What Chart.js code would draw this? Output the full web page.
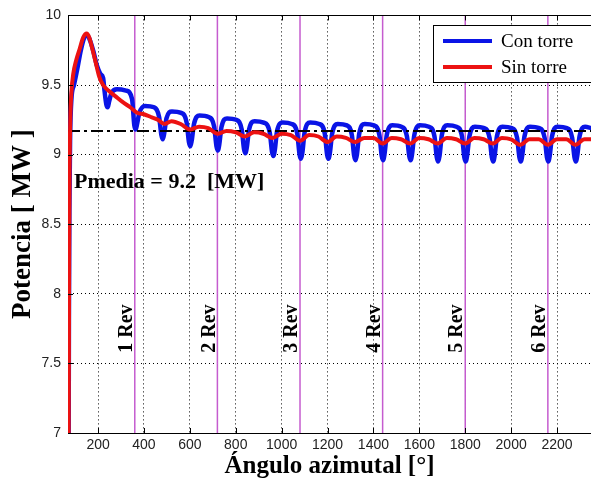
<!DOCTYPE html>
<html lang="es">
<head>
<meta charset="UTF-8">
<title>Potencia vs ángulo azimutal</title>
<script src="https://cdn.jsdelivr.net/npm/chart.js"></script>
<style>
    body { margin: 0; background: #ffffff; }
    .chart-box { position: relative; width: 591px; height: 486px; }
</style>
</head>
<body>
<div class="chart-box"><canvas id="potenciaChart"></canvas></div>
<script>
// series labels
const seriesLabels = ['Con torre', 'Sin torre'];

// Con torre (blue): angle [deg] and power [MW]
const blueAngle = [72, 73, 75, 78, 84, 95, 110, 125, 140, 152, 165, 180, 195, 210, 222, 228, 236, 242,
    248, 258, 282, 322, 348, 358, 364,
    370, 380, 404, 444, 466, 476, 482,
    488, 498, 522, 562, 586, 596, 602,
    608, 618, 642, 682, 706, 716, 722,
    728, 738, 762, 802, 826, 836, 842,
    848, 858, 882, 922, 948, 958, 964,
    970, 980, 1004, 1044, 1068, 1078, 1084,
    1090, 1100, 1124, 1164, 1188, 1198, 1204,
    1210, 1220, 1244, 1284, 1306, 1316, 1322,
    1328, 1338, 1362, 1402, 1426, 1436, 1442,
    1448, 1458, 1482, 1522, 1546, 1556, 1562,
    1568, 1578, 1602, 1642, 1666, 1676, 1682,
    1688, 1698, 1722, 1762, 1786, 1796, 1802,
    1808, 1818, 1842, 1882, 1906, 1916, 1922,
    1928, 1938, 1962, 2002, 2026, 2036, 2042,
    2048, 2058, 2082, 2122, 2146, 2156, 2162,
    2168, 2178, 2202, 2242, 2266, 2276, 2282,
    2288, 2298, 2322, 2350];
const bluePower = [7.00, 7.80, 8.60, 9.10, 9.40, 9.50, 9.62, 9.75, 9.84, 9.86, 9.82, 9.74, 9.64, 9.58, 9.55, 9.46, 9.36, 9.34,
    9.38, 9.44, 9.47, 9.46, 9.40, 9.21, 9.18,
    9.22, 9.30, 9.35, 9.34, 9.27, 9.14, 9.11,
    9.15, 9.26, 9.31, 9.30, 9.23, 9.09, 9.06,
    9.10, 9.22, 9.28, 9.27, 9.20, 9.06, 9.03,
    9.07, 9.20, 9.26, 9.25, 9.18, 9.04, 9.01,
    9.05, 9.18, 9.24, 9.23, 9.16, 9.02, 8.99,
    9.03, 9.17, 9.23, 9.22, 9.15, 9.00, 8.97,
    9.01, 9.16, 9.23, 9.22, 9.15, 9.00, 8.97,
    9.01, 9.15, 9.22, 9.21, 9.14, 8.99, 8.96,
    9.00, 9.15, 9.22, 9.21, 9.14, 8.99, 8.96,
    9.00, 9.14, 9.21, 9.20, 9.13, 8.99, 8.96,
    9.00, 9.14, 9.21, 9.20, 9.13, 8.98, 8.95,
    8.99, 9.14, 9.21, 9.20, 9.13, 8.98, 8.95,
    8.99, 9.13, 9.20, 9.19, 9.12, 8.98, 8.95,
    8.99, 9.13, 9.20, 9.19, 9.12, 8.98, 8.95,
    8.99, 9.13, 9.20, 9.19, 9.12, 8.98, 8.95,
    8.99, 9.13, 9.20, 9.19, 9.12, 8.98, 8.95,
    8.99, 9.13, 9.20, 9.19];

// Sin torre (red)
const redAngle = [72, 73, 74, 76, 79, 84, 92, 105, 120, 135, 150, 162, 175, 190, 205, 222, 245, 275, 305, 340,
    370, 400, 430, 460, 490, 520, 560, 600, 640, 680, 720, 760, 800, 840, 880, 920, 960, 1000, 1040, 1080,
    1120, 1160, 1200, 1240, 1280, 1320, 1360, 1400, 1440, 1480, 1520, 1560, 1600, 1640, 1680, 1720, 1760,
    1800, 1840, 1880, 1920, 1960, 2000, 2040, 2080, 2120, 2160, 2200, 2240, 2280, 2320, 2350];
const redPower = [7.00, 7.60, 8.30, 8.90, 9.25, 9.45, 9.58, 9.68, 9.76, 9.84, 9.87, 9.84, 9.76, 9.66, 9.56, 9.50, 9.46, 9.42, 9.38, 9.34,
    9.30, 9.29, 9.27, 9.25, 9.22, 9.24, 9.22, 9.18, 9.20, 9.19, 9.15, 9.17, 9.16, 9.13, 9.16, 9.15, 9.12, 9.15, 9.14, 9.10,
    9.14, 9.13, 9.09, 9.13, 9.12, 9.09, 9.12, 9.12, 9.08, 9.12, 9.11, 9.08, 9.12, 9.11, 9.08, 9.12, 9.11,
    9.08, 9.12, 9.11, 9.08, 9.12, 9.11, 9.07, 9.11, 9.11, 9.07, 9.11, 9.11, 9.07, 9.11, 9.11];

// mean power line
const meanAngle = [69, 2350];
const meanPower = [9.17, 9.17];
const meanText = 'Pmedia = 9.2  [MW]';

// revolutions
const revAngles = [360, 720, 1080, 1440, 1800, 2160];
const revLabels = ['1 Rev', '2 Rev', '3 Rev', '4 Rev', '5 Rev', '6 Rev'];

// axes
const xTicks = [200, 400, 600, 800, 1000, 1200, 1400, 1600, 1800, 2000, 2200];
const yTicks = [7, 7.5, 8, 8.5, 9, 9.5, 10];

const toPoints = (xs, ys) => xs.map((x, i) => ({ x: x, y: ys[i] }));
const serif = "'Liberation Serif', 'Times New Roman', serif";
const sans = "'Liberation Sans', Arial, sans-serif";

// magenta rev lines (under curves)
const revLinesPlugin = {
    id: 'revLines',
    beforeDatasetsDraw(chart) {
        const { ctx, chartArea: ca, scales: { x } } = chart;
        ctx.save();
        ctx.strokeStyle = '#c55ccf';
        ctx.lineWidth = 1.5;
        revAngles.forEach(a => {
            const px = x.getPixelForValue(a);
            ctx.beginPath();
            ctx.moveTo(px, ca.top);
            ctx.lineTo(px, ca.bottom);
            ctx.stroke();
        });
        ctx.restore();
    }
};

// texts, box, inner ticks, legend
const overlayPlugin = {
    id: 'overlay',
    afterDraw(chart) {
        const { ctx, chartArea: ca, scales: { x, y } } = chart;
        ctx.save();

        // top border and inward ticks
        ctx.strokeStyle = '#000';
        ctx.lineWidth = 1;
        ctx.beginPath();
        ctx.moveTo(ca.left, Math.round(ca.top) + 0.5);
        ctx.lineTo(ca.right, Math.round(ca.top) + 0.5);
        xTicks.forEach(v => {
            const px = Math.round(x.getPixelForValue(v)) + 0.5;
            ctx.moveTo(px, ca.bottom);
            ctx.lineTo(px, ca.bottom - 5);
            ctx.moveTo(px, ca.top);
            ctx.lineTo(px, ca.top + 5);
        });
        yTicks.forEach(v => {
            const py = Math.round(y.getPixelForValue(v)) + 0.5;
            ctx.moveTo(ca.left, py);
            ctx.lineTo(ca.left + 5, py);
        });
        ctx.stroke();

        // rev labels
        ctx.fillStyle = '#000';
        ctx.font = 'bold 20px ' + serif;
        ctx.textAlign = 'center';
        ctx.textBaseline = 'middle';
        revAngles.forEach((a, i) => {
            const px = x.getPixelForValue(a) - 8;
            ctx.save();
            ctx.translate(px, y.getPixelForValue(7.75));
            ctx.rotate(-Math.PI / 2);
            ctx.fillText(revLabels[i], 0, 0);
            ctx.restore();
        });

        // mean label
        ctx.font = 'bold 22px ' + serif;
        ctx.textAlign = 'left';
        ctx.fillText(meanText, x.getPixelForValue(95), y.getPixelForValue(8.8));

        // legend
        const lx = 433, ly = 25, lw = 170, lh = 57;
        ctx.fillStyle = '#fff';
        ctx.fillRect(lx, ly, lw, lh);
        ctx.strokeRect(lx + 0.5, ly + 0.5, lw, lh);
        ctx.font = '19px ' + serif;
        chart.data.datasets.slice(0, 2).forEach((ds, i) => {
            const ry = ly + 16 + i * 26;
            ctx.strokeStyle = ds.borderColor;
            ctx.lineWidth = 4;
            ctx.beginPath();
            ctx.moveTo(lx + 10, ry);
            ctx.lineTo(lx + 59, ry);
            ctx.stroke();
            ctx.fillStyle = '#000';
            ctx.fillText(ds.label, lx + 68, ry + 1);
        });
        ctx.restore();
    }
};

new Chart(document.getElementById('potenciaChart'), {
    type: 'line',
    data: {
        datasets: [
            {
                label: seriesLabels[0],
                data: toPoints(blueAngle, bluePower),
                borderColor: '#0a14e6',
                borderWidth: 4.5,
                pointRadius: 0,
                cubicInterpolationMode: 'monotone',
                order: 3
            },
            {
                label: seriesLabels[1],
                data: toPoints(redAngle, redPower),
                borderColor: '#ec1212',
                borderWidth: 4,
                pointRadius: 0,
                cubicInterpolationMode: 'monotone',
                order: 1
            },
            {
                label: 'Pmedia',
                data: toPoints(meanAngle, meanPower),
                borderColor: '#000',
                borderWidth: 2,
                borderDash: [12, 4, 3, 4],
                pointRadius: 0,
                order: 2
            }
        ]
    },
    options: {
        responsive: true,
        maintainAspectRatio: false,
        animation: false,
        layout: { padding: { top: 15, right: 0, left: 0, bottom: 0 } },
        plugins: { legend: { display: false }, tooltip: { enabled: false } },
        scales: {
            x: {
                type: 'linear',
                min: 69,
                max: 2348,
                afterBuildTicks: s => { s.ticks = xTicks.map(v => ({ value: v })); },
                afterFit: s => { s.height = 53; },
                grid: { color: '#000', drawTicks: false, lineWidth: 1 },
                border: { display: true, color: '#000', width: 1, dash: [1, 3] },
                ticks: { padding: 4, color: '#222', font: { family: sans, size: 14 }, callback: v => String(v) },
                title: { display: true, text: 'Ángulo azimutal [°]', color: '#000',
                    font: { family: serif, size: 25, weight: 'bold' }, padding: { top: 0, bottom: 4 } }
            },
            y: {
                min: 7,
                max: 10,
                afterBuildTicks: s => { s.ticks = yTicks.map(v => ({ value: v })); },
                afterFit: s => { s.width = 68; },
                grid: { color: '#000', drawTicks: false, lineWidth: 1 },
                border: { display: true, color: '#000', width: 1, dash: [1, 3] },
                ticks: { padding: 7, color: '#222', font: { family: sans, size: 14 }, callback: v => String(v) },
                title: { display: true, text: 'Potencia [ MW ]', color: '#000',
                    font: { family: serif, size: 27, weight: 'bold' }, padding: { top: 7, bottom: 0 } }
            }
        }
    },
    plugins: [revLinesPlugin, overlayPlugin]
});
</script>
</body>
</html>
